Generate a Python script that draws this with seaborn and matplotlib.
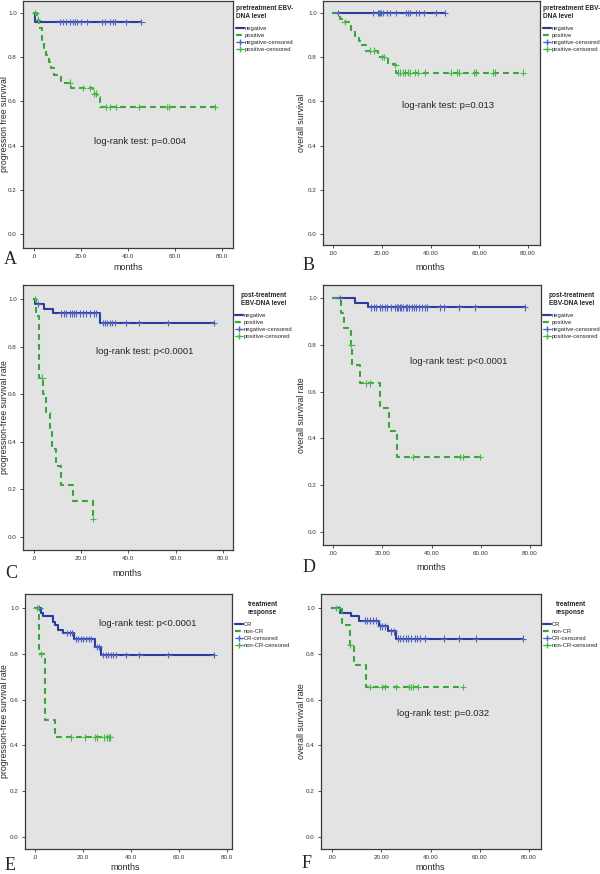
import numpy as np
import pandas as pd
import seaborn as sns
import matplotlib.pyplot as plt
from matplotlib.lines import Line2D

# ---- data (months, survival) ----
# A: PFS by pretreatment EBV-DNA
a_neg_t = [0, 0.5]
a_neg_s = [1.0, 0.96]
a_neg_c = [10.9, 12.2, 13.6, 15.3, 16.5, 17.6, 18.2, 20.2, 22.6, 29.1, 30.1, 32.5, 33.6, 34.4, 39.1, 45.7]
a_pos_t = [0, 1.4, 2.1, 3.4, 4.3, 5.0, 6.4, 7.4, 8.5, 9.8, 11.4, 15.9, 25.0, 26.8, 28.0]
a_pos_s = [1.0, 0.97, 0.93, 0.88, 0.84, 0.81, 0.78, 0.75, 0.72, 0.71, 0.685, 0.66, 0.635, 0.62, 0.575]
a_pos_c = [0.6, 1.7, 15.2, 20.9, 24.0, 25.6, 26.3, 30.5, 32.5, 35.0, 44.5, 56.5, 57.5, 77.0]

# B: OS by pretreatment EBV-DNA
b_neg_t = [0]
b_neg_s = [1.0]
b_neg_c = [2.1, 16.4, 18.5, 18.9, 19.4, 19.8, 20.5, 22.2, 23.5, 26.0, 30.1, 30.8, 31.5, 34.1, 35.4, 37.3, 42.4, 46.0]
b_pos_t = [0, 3.0, 4.5, 6.6, 7.5, 8.9, 10.7, 12.0, 13.7, 18.5, 22.6, 25.3, 26.0]
b_pos_s = [1.0, 0.975, 0.96, 0.95, 0.92, 0.885, 0.875, 0.855, 0.83, 0.80, 0.77, 0.765, 0.73]
b_pos_c = [4.8, 15.0, 17.0, 20.0, 21.0, 25.6, 26.7, 27.6, 28.7, 29.7, 30.8, 31.6, 33.5, 35.0, 37.6,
           48.5, 51.0, 51.6, 58.0, 58.7, 65.7, 66.3, 78.0]

# C: PFS by post-treatment EBV-DNA
c_neg_t = [0, 0.3, 4.1, 8.0, 27.8]
c_neg_s = [1.0, 0.98, 0.96, 0.94, 0.90]
c_neg_c = [1.7, 11.6, 12.7, 13.7, 15.1, 16.0, 17.1, 17.9, 19.4, 20.8, 22.0, 23.9, 25.2, 26.4, 29.2, 29.9,
           30.9, 32.0, 33.1, 34.1, 38.8, 44.4, 56.7, 76.0]
c_pos_t = [0, 1.0, 2.2, 3.8, 5.2, 6.6, 7.8, 9.2, 11.3, 16.5, 25.0]
c_pos_s = [1.0, 0.93, 0.67, 0.60, 0.52, 0.44, 0.37, 0.30, 0.22, 0.15, 0.075]
c_pos_c = [0.5, 3.5, 25.0]

# D: OS by post-treatment EBV-DNA
d_neg_t = [0, 8.8, 14.2]
d_neg_s = [1.0, 0.98, 0.96]
d_neg_c = [2.7, 15.6, 16.6, 17.6, 18.9, 20.1, 21.0, 22.0, 23.7, 25.0, 25.8, 26.4, 27.1, 27.8, 28.5, 29.5,
           30.1, 30.9, 31.9, 32.8, 33.9, 35.0, 36.3, 37.3, 38.0, 43.4, 45.0, 51.3, 57.6, 78.0]
d_pos_t = [0, 3.4, 4.5, 7.3, 7.9, 11.1, 19.0, 22.8, 26.0]
d_pos_s = [1.0, 0.935, 0.87, 0.80, 0.715, 0.635, 0.53, 0.43, 0.32]
d_pos_c = [7.5, 13.6, 14.9, 32.5, 51.5, 52.8, 59.7]

# E: PFS by treatment response
e_neg_t = [0, 2.4, 3.2, 7.6, 8.3, 9.7, 11.5, 16.3, 24.8, 27.5]
e_neg_s = [1.0, 0.98, 0.965, 0.94, 0.925, 0.905, 0.89, 0.865, 0.83, 0.795]
e_neg_c = [1.8, 13.2, 14.6, 15.3, 17.2, 18.1, 19.1, 20.2, 21.3, 22.3, 23.2, 25.7, 26.5, 28.5, 29.6, 30.6,
           31.6, 32.7, 33.8, 37.9, 43.5, 55.6, 74.4]
e_pos_t = [0, 1.8, 4.2, 8.3]
e_pos_s = [1.0, 0.80, 0.51, 0.435]
e_pos_c = [0.7, 2.5, 14.9, 20.9, 25.0, 25.7, 28.8, 29.9, 31.0, 31.3]

# F: OS by treatment response
f_neg_t = [0, 3.1, 7.8, 11.0, 18.9, 22.7, 26.1]
f_neg_s = [1.0, 0.98, 0.963, 0.945, 0.92, 0.898, 0.866]
f_neg_c = [13.3, 14.3, 15.3, 16.6, 18.0, 19.4, 20.4, 21.4, 24.1, 25.2, 26.8, 27.7, 28.8, 29.9, 30.9, 32.2,
           33.6, 34.5, 35.9, 37.6, 45.3, 51.6, 58.3, 77.5]
f_pos_t = [0, 4.2, 7.2, 8.9, 13.9]
f_pos_s = [1.0, 0.925, 0.84, 0.75, 0.655]
f_pos_c = [1.8, 2.8, 7.5, 15.6, 20.4, 21.4, 26.1, 31.3, 32.2, 32.9, 34.9, 53.2]

W, H = 600, 874
BLUE = '#2a3c9c'
GREEN = '#3aa53a'
BLUE_C = '#4f63c4'
GREEN_C = '#45b845'
BG = '#e3e3e3'

sns.set_theme(style="ticks")
plt.rcParams['font.family'] = ['Liberation Sans', 'DejaVu Sans']

fig = plt.figure(figsize=(W / 100, H / 100), dpi=100)


def step_value(t, s, c):
    idx = np.searchsorted(np.asarray(t), np.asarray(c), side='right') - 1
    return np.asarray(s)[idx]


def km_panel(box, xpx, ypx, neg, pos, names, fmt, ylabel, ylab_x, title, leg_xy,
             pval, pval_xy, letter, letter_xy, months_xy):
    left, top, right, bottom = box
    ax = fig.add_axes([left / W, 1 - bottom / H, (right - left) / W, (bottom - top) / H])
    ax.set_facecolor(BG)

    # pixel -> data range of the box
    sx = (xpx[1] - xpx[0]) / 80.0
    sy = ypx[1] - ypx[0]
    ax.set_xlim((left - xpx[0]) / sx, (right - xpx[0]) / sx)
    ax.set_ylim((ypx[1] - bottom) / sy, (ypx[1] - top) / sy)

    rows, cens = [], []
    for (t, s, c), name in zip([neg, pos], names):
        end = max(max(c), t[-1])
        for ti, si in zip(list(t) + [end], list(s) + [s[-1]]):
            rows.append((ti, si, name))
        for ci, vi in zip(c, step_value(t, s, c)):
            cens.append((ci, vi, name))
    df = pd.DataFrame(rows, columns=['months', 'surv', 'group'])
    dc = pd.DataFrame(cens, columns=['months', 'surv', 'group'])

    sns.lineplot(data=df, x='months', y='surv', hue='group', style='group',
                 palette={names[0]: BLUE, names[1]: GREEN},
                 dashes={names[0]: '', names[1]: (2.8, 2.0)},
                 drawstyle='steps-post', estimator=None, linewidth=1.5,
                 legend=False, ax=ax)
    sns.scatterplot(data=dc, x='months', y='surv', hue='group',
                    palette={names[0]: BLUE_C, names[1]: GREEN_C},
                    marker='+', s=22, linewidth=0.8, legend=False, ax=ax, zorder=3)

    ax.set_xticks([0, 20, 40, 60, 80])
    ax.set_xticklabels([fmt.format(v).lstrip('0') if v == 0 else fmt.format(v) for v in [0, 20, 40, 60, 80]])
    ax.set_yticks([0, 0.2, 0.4, 0.6, 0.8, 1.0])
    ax.set_yticklabels(['0.0', '0.2', '0.4', '0.6', '0.8', '1.0'])
    ax.tick_params(labelsize=4.5, length=2.5, width=0.6, pad=2, colors='#333333')
    for sp in ax.spines.values():
        sp.set_color('#3a3a3a')
        sp.set_linewidth(0.9)
    ax.set_xlabel('')
    ax.set_ylabel('')

    fig.text(ylab_x / W, 1 - (top + bottom) / 2 / H, ylabel, rotation=90,
             ha='center', va='center', fontsize=6.3)
    fig.text(months_xy[0] / W, 1 - months_xy[1] / H, 'months', ha='center', va='center', fontsize=6.5)
    fig.text(letter_xy[0] / W, 1 - letter_xy[1] / H, letter, ha='left', va='center', fontsize=13,
             family=['Liberation Serif', 'DejaVu Serif'])
    fig.text(pval_xy[0] / W, 1 - pval_xy[1] / H, pval, ha='center', va='center', fontsize=6.8)

    handles = [Line2D([], [], color=BLUE, lw=1.6),
               Line2D([], [], color=GREEN, lw=1.6, ls=(0, (2.6, 2.0))),
               Line2D([], [], color=BLUE_C, lw=0.8, marker='+', markersize=5),
               Line2D([], [], color=GREEN_C, lw=0.8, marker='+', markersize=5)]
    labels = [names[0], names[1], names[0] + '-censored', names[1] + '-censored']
    leg = fig.legend(handles, labels, title=title, loc='upper left',
                     bbox_to_anchor=(leg_xy[0] / W, 1 - leg_xy[1] / H),
                     frameon=False, fontsize=4.2, title_fontsize=4.7,
                     handlelength=1.3, handletextpad=0.2, labelspacing=0.35,
                     borderpad=0, borderaxespad=0)
    leg.get_title().set_fontweight('bold')
    leg._legend_box.sep = 4
    return ax


km_panel((23, 1, 233, 248), (34, 222), (13, 234),
         (a_neg_t, a_neg_s, a_neg_c), (a_pos_t, a_pos_s, a_pos_c),
         ['negative', 'positive'], '{:.1f}', 'progression free survival', 5,
         'pretreatment EBV-\nDNA level', (236, 5),
         'log-rank test: p=0.004', (140, 141), 'A', (4, 259), (128, 267))

km_panel((323, 1, 540, 245), (333, 528), (13, 234),
         (b_neg_t, b_neg_s, b_neg_c), (b_pos_t, b_pos_s, b_pos_c),
         ['negative', 'positive'], '{:.2f}', 'overall survival', 302,
         'pretreatment EBV-\nDNA level', (543, 5),
         'log-rank test: p=0.013', (448, 106), 'B', (303, 266), (430, 267))

km_panel((23, 285, 233, 550), (34, 223), (299, 537),
         (c_neg_t, c_neg_s, c_neg_c), (c_pos_t, c_pos_s, c_pos_c),
         ['negative', 'positive'], '{:.1f}', 'progression-free survival rate', 5,
         'post-treatment\nEBV-DNA level', (235, 292),
         'log-rank test: p<0.0001', (145, 352), 'C', (5, 573), (127, 573))

km_panel((323, 285, 541, 545), (333, 530), (298, 532),
         (d_neg_t, d_neg_s, d_neg_c), (d_pos_t, d_pos_s, d_pos_c),
         ['negative', 'positive'], '{:.2f}', 'overall survival rate', 302,
         'post-treatment\nEBV-DNA level', (543, 292),
         'log-rank test: p<0.0001', (459, 362), 'D', (303, 567), (431, 567))

km_panel((25, 594, 232, 849), (35, 227), (608, 837),
         (e_neg_t, e_neg_s, e_neg_c), (e_pos_t, e_pos_s, e_pos_c),
         ['CR', 'non-CR'], '{:.1f}', 'progression-free survival rate', 5,
         'treatment\nresponse', (235, 601),
         'log-rank test: p<0.0001', (148, 623), 'E', (5, 865), (125, 868))

km_panel((321, 594, 541, 849), (332, 529), (608, 837),
         (f_neg_t, f_neg_s, f_neg_c), (f_pos_t, f_pos_s, f_pos_c),
         ['CR', 'non-CR'], '{:.2f}', 'overall survival rate', 302,
         'treatment\nresponse', (543, 601),
         'log-rank test: p=0.032', (443, 713), 'F', (302, 863), (430, 868))

fig.savefig('out.png', dpi=100, facecolor='white')
